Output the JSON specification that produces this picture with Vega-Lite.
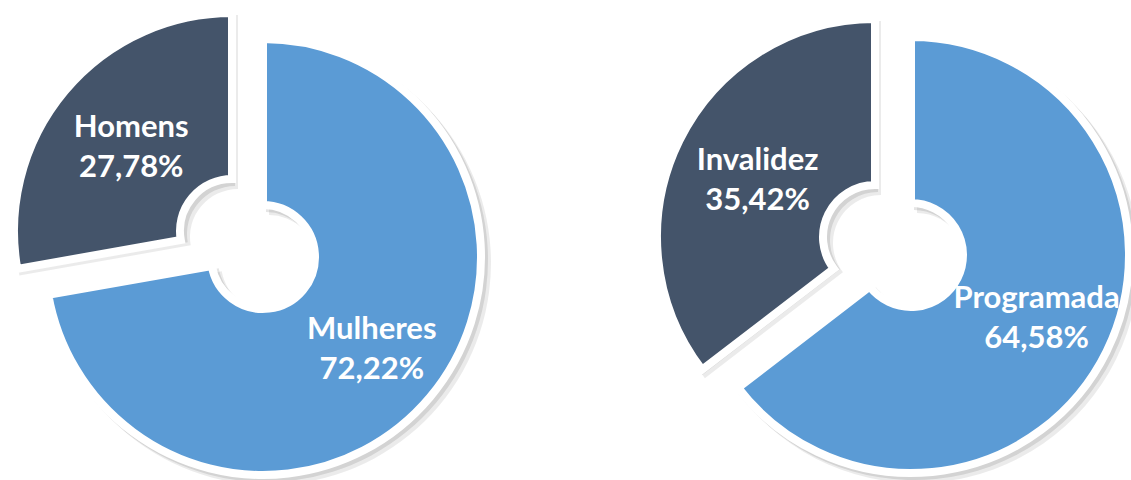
{
  "$schema": "https://vega.github.io/schema/vega-lite/v6.json",
  "width": 1131,
  "height": 480,
  "padding": 0,
  "autosize": {"type": "none"},
  "background": "white",
  "config": {"view": {"stroke": null}},
  "data": {
    "values": [
      {"grupo": "Sexo", "categoria": "Mulheres", "valor": 72.22, "ordem": 1, "rotulo": "Mulheres\n72,22%"},
      {"grupo": "Sexo", "categoria": "Homens", "valor": 27.78, "ordem": 2, "rotulo": "Homens\n27,78%"},
      {"grupo": "Tipo", "categoria": "Programada", "valor": 64.58, "ordem": 1, "rotulo": "Programada\n64,58%"},
      {"grupo": "Tipo", "categoria": "Invalidez", "valor": 35.42, "ordem": 2, "rotulo": "Invalidez\n35,42%"}
    ]
  },
  "transform": [
    {"stack": "valor", "groupby": ["grupo"], "sort": [{"field": "ordem", "order": "ascending"}], "as": ["t0", "t1"]}
  ],
  "encoding": {
    "x": {"field": "grupo", "type": "nominal", "scale": {"type": "point", "domain": ["Sexo", "Tipo"], "range": [263, 911], "padding": 0}, "axis": null},
    "y": {"field": "grupo", "type": "nominal", "scale": {"type": "point", "domain": ["Sexo", "Tipo"], "range": [257, 255], "padding": 0}, "axis": null}
  },
  "layer": [
    {
      "transform": [{"filter": "datum.ordem == 1"}],
      "mark": {"type": "arc", "outerRadius": 222, "innerRadius": 48, "fill": "#000000", "opacity": 0.08, "xOffset": 6, "yOffset": 6},
      "encoding": {"theta": {"field": "t0", "type": "quantitative", "stack": null, "scale": {"domain": [0, 100]}}, "theta2": {"field": "t1"}}
    },
    {
      "transform": [{"filter": "datum.ordem == 1"}],
      "mark": {"type": "arc", "outerRadius": 222, "innerRadius": 48, "fill": "#000000", "opacity": 0.1, "xOffset": 3, "yOffset": 3},
      "encoding": {"theta": {"field": "t0", "type": "quantitative", "stack": null, "scale": {"domain": [0, 100]}}, "theta2": {"field": "t1"}}
    },
    {
      "transform": [{"filter": "datum.categoria == 'Homens'"}],
      "mark": {"type": "arc", "outerRadius": 222, "innerRadius": 48, "fill": "#000000", "opacity": 0.08, "xOffset": -25, "yOffset": -20},
      "encoding": {"theta": {"field": "t0", "type": "quantitative", "stack": null, "scale": {"domain": [0, 100]}}, "theta2": {"field": "t1"}}
    },
    {
      "transform": [{"filter": "datum.categoria == 'Homens'"}],
      "mark": {"type": "arc", "outerRadius": 222, "innerRadius": 48, "fill": "#000000", "opacity": 0.1, "xOffset": -28, "yOffset": -23},
      "encoding": {"theta": {"field": "t0", "type": "quantitative", "stack": null, "scale": {"domain": [0, 100]}}, "theta2": {"field": "t1"}}
    },
    {
      "transform": [{"filter": "datum.categoria == 'Invalidez'"}],
      "mark": {"type": "arc", "outerRadius": 222, "innerRadius": 48, "fill": "#000000", "opacity": 0.08, "xOffset": -30, "yOffset": -12},
      "encoding": {"theta": {"field": "t0", "type": "quantitative", "stack": null, "scale": {"domain": [0, 100]}}, "theta2": {"field": "t1"}}
    },
    {
      "transform": [{"filter": "datum.categoria == 'Invalidez'"}],
      "mark": {"type": "arc", "outerRadius": 222, "innerRadius": 48, "fill": "#000000", "opacity": 0.1, "xOffset": -33, "yOffset": -15},
      "encoding": {"theta": {"field": "t0", "type": "quantitative", "stack": null, "scale": {"domain": [0, 100]}}, "theta2": {"field": "t1"}}
    },
    {
      "transform": [{"filter": "datum.ordem == 1"}],
      "mark": {"type": "arc", "outerRadius": 218, "innerRadius": 52, "stroke": "white", "strokeWidth": 8, "strokeJoin": "miter"},
      "encoding": {
        "theta": {"field": "t0", "type": "quantitative", "stack": null, "scale": {"domain": [0, 100]}},
        "theta2": {"field": "t1"},
        "color": {"field": "categoria", "type": "nominal", "scale": {"domain": ["Mulheres", "Homens", "Programada", "Invalidez"], "range": ["#5B9BD5", "#44546A", "#5B9BD5", "#44546A"]}, "legend": null}
      }
    },
    {
      "transform": [{"filter": "datum.categoria == 'Homens'"}],
      "mark": {"type": "arc", "outerRadius": 218, "innerRadius": 52, "stroke": "white", "strokeWidth": 8, "strokeJoin": "miter", "xOffset": -31, "yOffset": -26},
      "encoding": {
        "theta": {"field": "t0", "type": "quantitative", "stack": null, "scale": {"domain": [0, 100]}},
        "theta2": {"field": "t1"},
        "color": {"field": "categoria", "type": "nominal", "legend": null}
      }
    },
    {
      "transform": [{"filter": "datum.categoria == 'Invalidez'"}],
      "mark": {"type": "arc", "outerRadius": 218, "innerRadius": 52, "stroke": "white", "strokeWidth": 8, "strokeJoin": "miter", "xOffset": -36, "yOffset": -18},
      "encoding": {
        "theta": {"field": "t0", "type": "quantitative", "stack": null, "scale": {"domain": [0, 100]}},
        "theta2": {"field": "t1"},
        "color": {"field": "categoria", "type": "nominal", "legend": null}
      }
    },
    {
      "transform": [{"filter": "datum.grupo == 'Sexo'"}],
      "mark": {"type": "text", "radius": 142, "dy": -18, "font": "Lato", "fontWeight": "bold", "fontSize": 31, "lineBreak": "\n", "lineHeight": 40, "color": "white", "align": "center", "baseline": "middle"},
      "encoding": {
        "theta": {"field": "valor", "type": "quantitative", "stack": true, "scale": {"domain": [0, 100]}},
        "order": {"field": "ordem", "type": "quantitative"},
        "text": {"field": "rotulo", "type": "nominal"},
        "opacity": {"condition": {"test": "datum.ordem == 1", "value": 1}, "value": 0}
      }
    },
    {
      "transform": [{"filter": "datum.grupo == 'Sexo'"}],
      "mark": {"type": "text", "radius": 172, "dy": -18, "font": "Lato", "fontWeight": "bold", "fontSize": 31, "lineBreak": "\n", "lineHeight": 40, "color": "white", "align": "center", "baseline": "middle"},
      "encoding": {
        "theta": {"field": "valor", "type": "quantitative", "stack": true, "scale": {"domain": [0, 100]}},
        "order": {"field": "ordem", "type": "quantitative"},
        "text": {"field": "rotulo", "type": "nominal"},
        "opacity": {"condition": {"test": "datum.ordem == 2", "value": 1}, "value": 0}
      }
    },
    {
      "transform": [{"filter": "datum.grupo == 'Tipo'"}],
      "mark": {"type": "text", "radius": 140, "dy": -18, "font": "Lato", "fontWeight": "bold", "fontSize": 31, "lineBreak": "\n", "lineHeight": 40, "color": "white", "align": "center", "baseline": "middle"},
      "encoding": {
        "theta": {"field": "valor", "type": "quantitative", "stack": true, "scale": {"domain": [0, 100]}},
        "order": {"field": "ordem", "type": "quantitative"},
        "text": {"field": "rotulo", "type": "nominal"},
        "opacity": {"condition": {"test": "datum.ordem == 1", "value": 1}, "value": 0}
      }
    },
    {
      "transform": [{"filter": "datum.grupo == 'Tipo'"}],
      "mark": {"type": "text", "radius": 171, "dy": -18, "font": "Lato", "fontWeight": "bold", "fontSize": 31, "lineBreak": "\n", "lineHeight": 40, "color": "white", "align": "center", "baseline": "middle"},
      "encoding": {
        "theta": {"field": "valor", "type": "quantitative", "stack": true, "scale": {"domain": [0, 100]}},
        "order": {"field": "ordem", "type": "quantitative"},
        "text": {"field": "rotulo", "type": "nominal"},
        "opacity": {"condition": {"test": "datum.ordem == 2", "value": 1}, "value": 0}
      }
    }
  ]
}
